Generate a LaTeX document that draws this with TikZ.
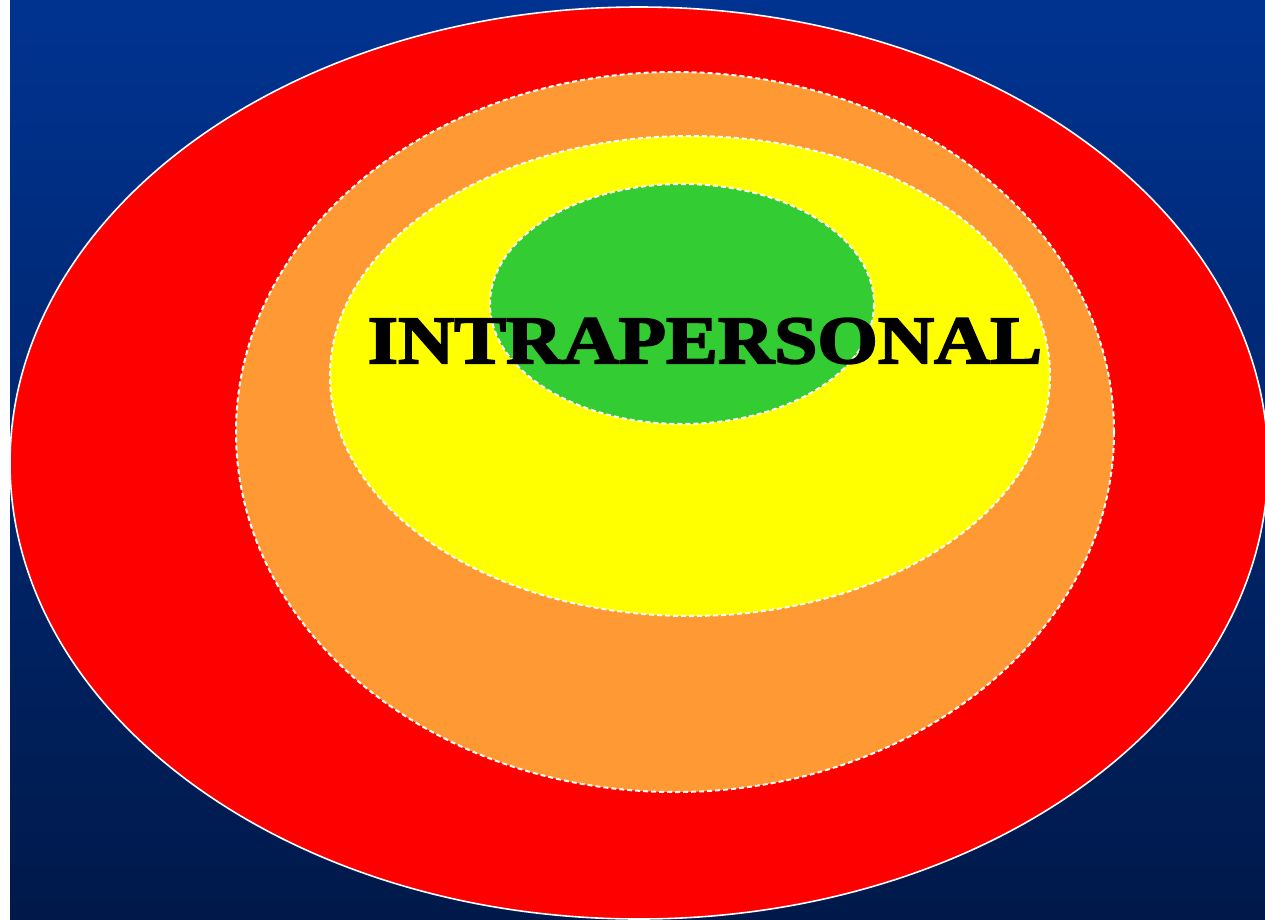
\documentclass[tikz,border=0pt]{standalone}
\usepackage{fontspec}
\usepackage{graphicx}
\usetikzlibrary{positioning}
\newfontfamily\posterfont[FakeBold=2.5]{Liberation Serif}
\definecolor{BgTop}{HTML}{003391}
\definecolor{BgBottom}{HTML}{00194A}
\definecolor{Ring}{HTML}{FF0000}
\definecolor{Orange}{HTML}{FF9933}
\definecolor{Sun}{HTML}{FFFF00}
\definecolor{Leaf}{HTML}{33CC33}

\begin{document}
\begin{tikzpicture}[x=1pt, y=-1pt,
  level/.style={draw=white, line width=1.6pt},
  inner/.style={level, line width=2pt, dash pattern=on 5pt off 3pt},
  label/.style={inner sep=0pt, font=\posterfont\bfseries}
]
\useasboundingbox (0,0) rectangle (1265,919);
\fill[white] (0,0) rectangle (10,919);
\shade[top color=BgTop, bottom color=BgBottom] (10,0) rectangle (1265,919);
% nested levels
\path[level, fill=Ring] (639,463) ellipse [x radius=629, y radius=456];
\path[inner, fill=Orange] (675,432) ellipse [x radius=439, y radius=360];
\path[inner, fill=Sun] (690,376) ellipse [x radius=360, y radius=240];
\path[inner, fill=Leaf] (682,304) ellipse [x radius=192, y radius=120];
\node[label] (intra) at (705,341) {\resizebox{674pt}{45pt}{INTRAPERSONAL}};
\end{tikzpicture}
\end{document}
